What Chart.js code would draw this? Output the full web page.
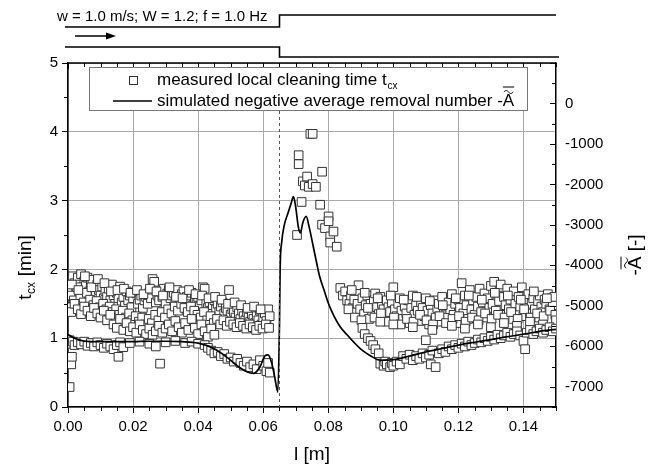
<!DOCTYPE html>
<html>
<head>
<meta charset="utf-8">
<script src="https://cdn.jsdelivr.net/npm/chart.js@4.4.1/dist/chart.umd.min.js"></script>
<style>
  html, body { margin: 0; padding: 0; background: #fff; }
  #wrap { width: 657px; height: 470px; }
</style>
</head>
<body>
<div id="wrap"><canvas id="chart" width="657" height="470"></canvas></div>
<script>
// tick values
const xTickValues = [0, 0.02, 0.04, 0.06, 0.08, 0.10, 0.12, 0.14];
const yLeftTickValues = [0, 1, 2, 3, 4, 5];
const yRightTickValues = [-7000, -6000, -5000, -4000, -3000, -2000, -1000, 0];

// measured local cleaning time t_cx [min], pairs [l (m), t (min)]
const upperLeft = [[0.0005,1.85],[0.001,1.72],[0.0015,1.9],[0.002,1.8],[0.0025,1.66],[0.003,1.88],[0.0035,1.78],[0.004,1.93],[0.0045,1.7],[0.005,1.83],[0.0055,1.76],[0.006,1.88],[0.0065,1.68],[0.007,1.8],[0.0075,1.85],[0.008,1.72],[0.0085,1.64],[0.009,1.78],[0.0095,1.7],[0.010,1.62],[0.0105,1.75],[0.011,1.58],[0.0115,1.68],[0.012,1.6],[0.0125,1.72],[0.013,1.55],[0.0135,1.78],[0.014,1.62],[0.0145,1.5],[0.015,1.66],[0.0155,1.58],[0.016,1.75],[0.0165,1.52],[0.017,1.6],[0.0175,1.47],[0.018,1.68],[0.0185,1.55],[0.019,1.62],[0.0195,1.45],[0.020,1.58],[0.021,1.65],[0.0215,1.5],[0.022,1.56],[0.0225,1.62],[0.023,1.44],[0.0235,1.55],[0.024,1.6],[0.0245,1.5],[0.025,1.66],[0.0255,1.58],[0.026,1.86],[0.0265,1.82],[0.027,1.52],[0.0275,1.62],[0.028,1.55],[0.0285,1.68],[0.029,1.6],[0.0295,1.72],[0.030,1.5],[0.0305,1.65],[0.031,1.7],[0.0315,1.58],[0.032,1.62],[0.0325,1.66],[0.033,1.52],[0.0335,1.7],[0.034,1.6],[0.0345,1.55],[0.035,1.64],[0.0355,1.68],[0.036,1.5],[0.0365,1.6],[0.037,1.55],[0.0375,1.62],[0.038,1.66],[0.0385,1.48],[0.039,1.58],[0.0395,1.52],[0.040,1.6],[0.0405,1.46],[0.041,1.55],[0.0415,1.74],[0.042,1.72],[0.0425,1.5],[0.043,1.44],[0.0435,1.52],[0.044,1.4],[0.0445,1.48],[0.045,1.55],[0.0455,1.42],[0.046,1.5],[0.0465,1.38],[0.047,1.46],[0.0475,1.52],[0.048,1.36],[0.0485,1.44],[0.049,1.4],[0.0495,1.7],[0.050,1.34],[0.0505,1.42],[0.051,1.38],[0.0515,1.3],[0.052,1.45],[0.0525,1.36],[0.053,1.28],[0.0535,1.4],[0.054,1.32],[0.0545,1.26],[0.055,1.38],[0.0555,1.3],[0.056,1.24],[0.0565,1.35],[0.057,1.28],[0.0575,1.22],[0.058,1.32],[0.0585,1.26],[0.059,1.4],[0.0595,1.2],[0.060,1.3],[0.0605,1.36],[0.061,1.25],[0.0615,1.42],[0.062,1.32]];
const extraLeft = [[0.0008,1.62],[0.0018,1.55],[0.0028,1.74],[0.0038,1.6],[0.0048,1.52],[0.0058,1.66],[0.0068,1.56],[0.0078,1.48],[0.0088,1.54],[0.0098,1.45],[0.0108,1.5],[0.0118,1.42],[0.0128,1.46],[0.0138,1.38],[0.0148,1.42],[0.0158,1.34],[0.0168,1.4],[0.0178,1.3],[0.0188,1.36],[0.0198,1.26],[0.0208,1.32],[0.0218,1.24],[0.0228,1.3],[0.0238,1.2],[0.0248,1.28],[0.0258,1.22],[0.0268,1.34],[0.0278,1.26],[0.0288,1.38],[0.0298,1.3],[0.0308,1.42],[0.0318,1.36],[0.0328,1.46],[0.0338,1.4],[0.0348,1.5],[0.0358,1.44],[0.0368,1.38],[0.0378,1.46],[0.0388,1.4],[0.0398,1.34],[0.0408,1.3],[0.0418,1.38],[0.0428,1.26],[0.0438,1.32],[0.0448,1.22],[0.0458,1.28],[0.0468,1.2],[0.0478,1.26],[0.0488,1.18],[0.0498,1.24],[0.0508,1.2],[0.0518,1.16],[0.0528,1.22],[0.0538,1.18],[0.0548,1.14],[0.0558,1.2],[0.0568,1.16],[0.0578,1.12],[0.0588,1.18],[0.0598,1.14],[0.0608,1.2],[0.0618,1.15],[0.0012,1.78],[0.0032,1.7],[0.0052,1.9],[0.0072,1.74],[0.0092,1.86],[0.0112,1.8],[0.0132,1.68],[0.0152,1.7],[0.0172,1.72],[0.0192,1.66],[0.0212,1.7],[0.0232,1.64],[0.0252,1.72],[0.0272,1.68],[0.0292,1.62],[0.0312,1.74],[0.0332,1.6],[0.0352,1.58],[0.0372,1.7],[0.0392,1.64],[0.0412,1.62],[0.0432,1.58],[0.0452,1.6],[0.0472,1.56],[0.0492,1.5],[0.0512,1.52],[0.0532,1.48],[0.0552,1.44],[0.0572,1.46],[0.0592,1.42]];
const middleLeft = [[0.0005,1.45],[0.001,1.38],[0.002,1.5],[0.003,1.42],[0.004,1.35],[0.005,1.46],[0.006,1.4],[0.007,1.32],[0.008,1.44],[0.009,1.36],[0.010,1.3],[0.011,1.4],[0.012,1.26],[0.013,1.34],[0.014,1.2],[0.015,1.15],[0.016,1.28],[0.017,1.12],[0.018,1.22],[0.019,1.1],[0.020,1.16],[0.021,1.08],[0.022,1.2],[0.023,1.12],[0.024,1.06],[0.025,1.14],[0.026,1.05],[0.027,1.1],[0.028,1.18],[0.029,1.08],[0.030,1.14],[0.031,1.2],[0.032,1.1],[0.033,1.25],[0.034,1.16],[0.035,1.08],[0.036,1.22],[0.037,1.12],[0.038,1.28],[0.039,1.15],[0.040,1.06],[0.041,1.2],[0.042,1.1],[0.043,1.02],[0.044,1.14],[0.045,1.05]];
const lowerLeft = [[0.0005,0.97],[0.001,0.92],[0.0015,0.95],[0.002,0.9],[0.003,0.94],[0.004,0.91],[0.005,0.95],[0.006,0.89],[0.007,0.93],[0.008,0.88],[0.009,0.94],[0.010,0.9],[0.011,0.86],[0.012,0.92],[0.013,0.88],[0.014,0.84],[0.015,0.9],[0.016,0.94],[0.017,0.87],[0.019,0.93],[0.022,0.95],[0.025,0.92],[0.027,0.88],[0.030,0.94],[0.033,0.96],[0.036,0.93],[0.038,0.95],[0.040,0.92],[0.042,0.9],[0.043,0.86],[0.044,0.82],[0.045,0.78],[0.046,0.8],[0.047,0.74],[0.048,0.77],[0.049,0.7],[0.050,0.72],[0.051,0.66],[0.052,0.7],[0.053,0.64],[0.054,0.6],[0.055,0.66],[0.056,0.58],[0.057,0.62],[0.058,0.55],[0.059,0.68],[0.060,0.6],[0.061,0.52],[0.0615,0.64],[0.062,0.5]];
const outliersLeft = [[0.0005,0.29],[0.001,0.62],[0.0012,0.73],[0.0155,0.73],[0.0283,0.63]];
const peak = [[0.0704,2.5],[0.0709,3.66],[0.0709,3.53],[0.0718,2.98],[0.0722,3.28],[0.0728,3.22],[0.0735,3.35],[0.0740,3.2],[0.0745,3.97],[0.0752,3.97],[0.0752,3.24],[0.0762,3.2],[0.0775,2.94],[0.0781,3.42],[0.0781,2.65],[0.0790,2.6],[0.0801,2.77],[0.0801,2.7],[0.0806,2.48],[0.0806,2.39],[0.0816,2.55],[0.0826,2.33]];
const upperRight = [[0.0837,1.73],[0.0845,1.62],[0.0852,1.68],[0.0858,1.55],[0.0865,1.5],[0.087,1.62],[0.0875,1.44],[0.088,1.56],[0.0885,1.38],[0.089,1.5],[0.0893,1.77],[0.0898,1.42],[0.0905,1.58],[0.091,1.35],[0.0915,1.48],[0.092,1.62],[0.0925,1.28],[0.093,1.5],[0.0935,1.4],[0.094,1.55],[0.0944,1.65],[0.095,1.45],[0.0955,1.35],[0.096,1.6],[0.0965,1.5],[0.097,1.42],[0.0975,1.3],[0.098,1.55],[0.0985,1.45],[0.099,1.38],[0.0995,1.52],[0.100,1.74],[0.1005,1.42],[0.101,1.32],[0.1015,1.5],[0.102,1.58],[0.1025,1.4],[0.103,1.28],[0.1035,1.46],[0.104,1.36],[0.1045,1.55],[0.105,1.22],[0.1055,1.44],[0.106,1.62],[0.1065,1.34],[0.107,1.48],[0.1075,1.4],[0.108,1.25],[0.1085,1.52],[0.109,1.44],[0.1095,1.32],[0.110,1.58],[0.1105,1.4],[0.111,1.2],[0.1115,1.48],[0.112,1.36],[0.1125,1.55],[0.113,1.3],[0.1135,1.44],[0.114,1.5],[0.1145,1.24],[0.115,1.6],[0.1155,1.38],[0.116,1.46],[0.1165,1.3],[0.117,1.52],[0.1175,1.42],[0.118,1.64],[0.1185,1.34],[0.119,1.5],[0.1195,1.22],[0.120,1.56],[0.1205,1.44],[0.121,1.8],[0.1215,1.36],[0.122,1.62],[0.1225,1.48],[0.123,1.28],[0.1235,1.7],[0.124,1.42],[0.1245,1.55],[0.125,1.34],[0.1255,1.6],[0.126,1.46],[0.1265,1.72],[0.127,1.38],[0.1275,1.52],[0.128,1.65],[0.1285,1.3],[0.129,1.58],[0.1295,1.44],[0.130,1.76],[0.1305,1.5],[0.131,1.82],[0.1315,1.4],[0.132,1.62],[0.1325,1.54],[0.133,1.78],[0.1335,1.34],[0.134,1.6],[0.1345,1.48],[0.135,1.72],[0.1355,1.42],[0.136,1.56],[0.1365,1.28],[0.137,1.68],[0.1375,1.5],[0.138,1.38],[0.1385,1.6],[0.139,1.46],[0.1395,1.74],[0.140,1.32],[0.1405,1.55],[0.141,1.44],[0.1415,1.64],[0.142,1.36],[0.1425,1.5],[0.143,1.58],[0.1435,1.42],[0.144,1.3],[0.1445,1.54],[0.145,1.62],[0.1455,1.46],[0.146,1.38],[0.1465,1.56],[0.147,1.5],[0.1475,1.64],[0.148,1.42],[0.1485,1.58],[0.149,1.48],[0.1495,1.6]];
const extraRight = [[0.0862,1.42],[0.0882,1.3],[0.0902,1.26],[0.0922,1.44],[0.0942,1.3],[0.0962,1.36],[0.0982,1.24],[0.1002,1.3],[0.1022,1.2],[0.1042,1.28],[0.1062,1.24],[0.1082,1.34],[0.1102,1.26],[0.1122,1.2],[0.1142,1.32],[0.1162,1.22],[0.1182,1.28],[0.1202,1.32],[0.1222,1.24],[0.1242,1.3],[0.1262,1.26],[0.1282,1.36],[0.1302,1.28],[0.1322,1.34],[0.1342,1.3],[0.1362,1.38],[0.1382,1.28],[0.1402,1.42],[0.1422,1.3],[0.1442,1.36],[0.1462,1.32],[0.1482,1.4],[0.1498,1.34],[0.0872,1.7],[0.0912,1.66],[0.0952,1.58],[0.0992,1.62],[0.1032,1.56],[0.1072,1.6],[0.1112,1.54],[0.1152,1.48],[0.1192,1.58],[0.1232,1.62],[0.1272,1.56],[0.1312,1.66],[0.1352,1.62],[0.1392,1.56],[0.1432,1.68],[0.1472,1.58]];
const middleRight = [[0.096,1.24],[0.1,1.2],[0.106,1.16],[0.112,1.12],[0.118,1.18],[0.122,1.14],[0.126,1.2],[0.13,1.16],[0.134,1.22],[0.138,1.18],[0.142,1.24],[0.146,1.2],[0.15,1.26]];
const lowerRight = [[0.0905,1.15],[0.0912,1.06],[0.0922,1.0],[0.093,0.96],[0.0938,0.9],[0.0945,0.84],[0.0955,0.78],[0.096,0.63],[0.097,0.6],[0.0975,0.66],[0.098,0.62],[0.099,0.58],[0.0995,0.64],[0.100,0.6],[0.101,0.66],[0.102,0.62],[0.103,0.74],[0.104,0.7],[0.105,0.76],[0.106,0.68],[0.107,0.74],[0.108,0.7],[0.109,0.78],[0.110,0.72],[0.110,0.97],[0.111,0.76],[0.1115,0.62],[0.112,0.82],[0.113,0.58],[0.114,0.78],[0.115,0.84],[0.116,0.8],[0.117,0.88],[0.118,0.84],[0.119,0.9],[0.120,0.86],[0.121,0.92],[0.122,0.88],[0.123,0.95],[0.124,0.9],[0.125,0.93],[0.126,0.98],[0.127,0.94],[0.128,1.0],[0.129,0.96],[0.130,1.02],[0.131,0.98],[0.132,1.05],[0.133,1.0],[0.134,1.04],[0.135,1.08],[0.136,1.02],[0.137,1.06],[0.138,1.1],[0.139,1.04],[0.140,0.96],[0.1405,0.84],[0.141,1.08],[0.142,1.12],[0.143,1.06],[0.144,1.1],[0.145,1.14],[0.146,1.08],[0.147,1.12],[0.148,1.16],[0.149,1.1],[0.150,1.14]];

// simulated negative average removal number (right axis)
const simX = [0, 0.002, 0.005, 0.010, 0.015, 0.020, 0.025, 0.030, 0.035, 0.040, 0.043, 0.046, 0.049, 0.052, 0.055, 0.057, 0.059, 0.0605, 0.0615, 0.0625, 0.0635, 0.0645, 0.0650, 0.0652, 0.0657, 0.0665, 0.0675, 0.0685, 0.0693, 0.0700, 0.0708, 0.0714, 0.0722, 0.0732, 0.0742, 0.0754, 0.0764, 0.0774, 0.0787, 0.0800, 0.0818, 0.0836, 0.0857, 0.0877, 0.0900, 0.0928, 0.0960, 0.1000, 0.1050, 0.1100, 0.1150, 0.1200, 0.1250, 0.1300, 0.1350, 0.1400, 0.1450, 0.1500];
const simA = [-5710, -5800, -5870, -5885, -5885, -5885, -5875, -5875, -5885, -5920, -5990, -6110, -6280, -6480, -6630, -6670, -6510, -6240, -6210, -6380, -6740, -7130, -5460, -4100, -3420, -3000, -2740, -2490, -2300, -2570, -3050, -3200, -2940, -2790, -3080, -3540, -3930, -4290, -4610, -4930, -5260, -5510, -5710, -5885, -6070, -6225, -6345, -6330, -6240, -6140, -6055, -5970, -5900, -5835, -5765, -5700, -5630, -5580];

const FONT = '"Liberation Sans", Arial, sans-serif';
const toXY = pairs => pairs.map(p => ({ x: p[0], y: p[1] }));
const measured = toXY([].concat(upperLeft, extraLeft, middleLeft, lowerLeft, outliersLeft, peak, upperRight, extraRight, middleRight, lowerRight));
const simulated = simX.map((x, i) => ({ x: x, y: simA[i] }));

function drawTildeBar(ctx, cx, top, w) {
    // tilde
    ctx.beginPath();
    ctx.lineWidth = 1;
    for (let i = 0; i <= 10; i++) {
        const px = cx - w / 2 + 1 + ((w - 2) * i) / 10;
        const py = top - 3 - Math.sin((i / 10) * Math.PI * 2) * 1.5;
        if (i === 0) ctx.moveTo(px, py); else ctx.lineTo(px, py);
    }
    ctx.stroke();
    // bar
    ctx.beginPath();
    ctx.moveTo(cx - w / 2, top - 8);
    ctx.lineTo(cx + w / 2, top - 8);
    ctx.stroke();
}

const decor = {
    id: 'decor',
    afterDraw(chart) {
        const ctx = chart.ctx;
        const a = chart.chartArea;
        const sx = chart.scales.x, sy = chart.scales.y, sr = chart.scales.yR;
        ctx.save();
        ctx.strokeStyle = '#000';
        ctx.fillStyle = '#000';

        // dashed line at channel step
        const xs = Math.round(sx.getPixelForValue(0.065)) + 0.5;
        ctx.setLineDash([3, 3]);
        ctx.strokeStyle = '#555';
        ctx.lineWidth = 1;
        ctx.beginPath(); ctx.moveTo(xs, a.top); ctx.lineTo(xs, a.bottom); ctx.stroke();
        ctx.setLineDash([]);
        ctx.strokeStyle = '#000';

        // top axis
        ctx.lineWidth = 1.5;
        ctx.beginPath(); ctx.moveTo(a.left, a.top); ctx.lineTo(a.right, a.top); ctx.stroke();
        ctx.lineWidth = 1;
        for (let i = 0; i <= 30; i++) {
            const v = i * 0.005;
            const px = Math.round(sx.getPixelForValue(v)) + 0.5;
            const major = i % 4 === 0;
            ctx.beginPath(); ctx.moveTo(px, a.top); ctx.lineTo(px, a.top + (major ? 6 : 4)); ctx.stroke();
            if (!major) { ctx.beginPath(); ctx.moveTo(px, a.bottom); ctx.lineTo(px, a.bottom + 4); ctx.stroke(); }
        }
        // left minor ticks
        for (let i = 0; i < 5; i++) {
            const py = Math.round(sy.getPixelForValue(i + 0.5)) + 0.5;
            ctx.beginPath(); ctx.moveTo(a.left, py); ctx.lineTo(a.left - 4, py); ctx.stroke();
        }
        // right inward ticks
        for (let v = -7500; v <= 1000; v += 500) {
            const py = Math.round(sr.getPixelForValue(v)) + 0.5;
            const major = v % 1000 === 0;
            ctx.beginPath(); ctx.moveTo(a.right, py); ctx.lineTo(a.right - (major ? 6 : 4), py); ctx.stroke();
        }

        // channel sketch above the plot
        ctx.lineWidth = 1.6;
        ctx.beginPath();
        ctx.moveTo(65, 27); ctx.lineTo(xs, 27); ctx.lineTo(xs, 15); ctx.lineTo(a.right, 15);
        ctx.stroke();
        ctx.beginPath();
        ctx.moveTo(65, 47); ctx.lineTo(xs, 47); ctx.lineTo(xs, 57); ctx.lineTo(a.right + 3, 57);
        ctx.stroke();
        ctx.lineWidth = 1.4;
        ctx.beginPath(); ctx.moveTo(75, 36); ctx.lineTo(108, 36); ctx.stroke();
        ctx.beginPath(); ctx.moveTo(116, 36); ctx.lineTo(106, 32.5); ctx.lineTo(106, 39.5); ctx.closePath(); ctx.fill();
        ctx.fillStyle = '#fff';
        ctx.font = '15px ' + FONT;
        const topText = 'w = 1.0 m/s; W = 1.2; f = 1.0 Hz';
        const tw = ctx.measureText(topText).width;
        ctx.fillRect(56, 5, tw + 3, 18);
        ctx.fillStyle = '#000';
        ctx.textBaseline = 'alphabetic';
        ctx.textAlign = 'left';
        ctx.fillText(topText, 57, 21);

        // legend
        ctx.strokeStyle = '#777';
        ctx.lineWidth = 1;
        ctx.fillStyle = '#fff';
        ctx.fillRect(89.5, 67.5, 438, 43);
        ctx.strokeRect(89.5, 67.5, 438, 43);
        ctx.strokeStyle = '#333';
        ctx.strokeRect(129.5, 76.5, 8, 8);
        ctx.strokeStyle = '#000';
        ctx.lineWidth = 1.6;
        ctx.beginPath(); ctx.moveTo(113, 101); ctx.lineTo(152, 101); ctx.stroke();
        ctx.fillStyle = '#000';
        ctx.font = '17px ' + FONT;
        ctx.textBaseline = 'middle';
        const t1 = 'measured local cleaning time t';
        ctx.fillText(t1, 157, 80);
        const w1 = ctx.measureText(t1).width;
        ctx.font = '10px ' + FONT;
        ctx.fillText('cx', 157 + w1 + 1, 86);
        ctx.font = '17px ' + FONT;
        const t2 = 'simulated negative average removal number -';
        ctx.fillText(t2, 157, 101);
        const w2 = ctx.measureText(t2).width;
        ctx.fillText('A', 157 + w2, 101);
        const wA = ctx.measureText('A').width;
        ctx.lineWidth = 1;
        drawTildeBar(ctx, 157 + w2 + wA / 2, 95, wA);

        // axis titles
        ctx.font = '19px ' + FONT;
        ctx.textAlign = 'center';
        ctx.textBaseline = 'middle';
        ctx.fillText('l [m]', (a.left + a.right) / 2, 455);

        ctx.save();
        ctx.translate(26, 268);
        ctx.rotate(-Math.PI / 2);
        ctx.textAlign = 'left';
        const tl = 't';
        const tm = ' [min]';
        ctx.font = '19px ' + FONT;
        const wt = ctx.measureText(tl).width;
        const wm = ctx.measureText(tm).width;
        ctx.font = '12px ' + FONT;
        const wc = ctx.measureText('cx').width;
        const start = -(wt + wc + wm) / 2;
        ctx.font = '19px ' + FONT;
        ctx.fillText(tl, start, 0);
        ctx.fillText(tm, start + wt + wc + 1, 0);
        ctx.font = '12px ' + FONT;
        ctx.fillText('cx', start + wt + 0.5, 6);
        ctx.restore();

        ctx.save();
        ctx.translate(636, 255);
        ctx.rotate(-Math.PI / 2);
        ctx.font = '19px ' + FONT;
        ctx.textAlign = 'left';
        const full = '-A [-]';
        const wf = ctx.measureText(full).width;
        const wdash = ctx.measureText('-').width;
        const wA2 = ctx.measureText('A').width;
        ctx.fillText(full, -wf / 2, 0);
        ctx.strokeStyle = '#000';
        drawTildeBar(ctx, -wf / 2 + wdash + wA2 / 2, -7, wA2);
        ctx.restore();

        ctx.restore();
    }
};

new Chart(document.getElementById('chart'), {
    type: 'scatter',
    data: {
        datasets: [
            {
                label: 'simulated negative average removal number',
                data: simulated,
                yAxisID: 'yR',
                showLine: true,
                borderColor: '#000',
                borderWidth: 1.7,
                pointRadius: 0,
                cubicInterpolationMode: 'monotone'
            },
            {
                label: 'measured local cleaning time',
                data: measured,
                yAxisID: 'y',
                pointStyle: 'rect',
                pointRadius: 6.1,
                borderColor: '#333',
                borderWidth: 1,
                backgroundColor: '#fff'
            }
        ]
    },
    options: {
        responsive: false,
        devicePixelRatio: 1,
        animation: false,
        layout: { padding: { top: 63, left: 0, right: 0, bottom: 0 } },
        plugins: { legend: { display: false }, tooltip: { enabled: false } },
        scales: {
            x: {
                type: 'linear', min: 0, max: 0.15,
                afterBuildTicks: s => { s.ticks = xTickValues.map(v => ({ value: v })); },
                afterFit: s => { s.height = 63; },
                ticks: { callback: v => v.toFixed(2), font: { family: FONT, size: 15 }, color: '#000', padding: 5, maxRotation: 0 },
                grid: { color: '#aaa', lineWidth: 1, tickColor: '#000', tickLength: 6 },
                border: { display: true, color: '#000', width: 1.5 }
            },
            y: {
                type: 'linear', position: 'left', min: 0, max: 5,
                afterBuildTicks: s => { s.ticks = yLeftTickValues.map(v => ({ value: v })); },
                afterFit: s => { s.width = 68; },
                ticks: { font: { family: FONT, size: 15 }, color: '#000', padding: 4 },
                grid: { color: '#aaa', lineWidth: 1, tickColor: '#000', tickLength: 6 },
                border: { display: true, color: '#000', width: 1.5 }
            },
            yR: {
                type: 'linear', position: 'right', min: -7500, max: 1000,
                afterBuildTicks: s => { s.ticks = yRightTickValues.map(v => ({ value: v })); },
                afterFit: s => { s.width = 101; },
                ticks: { callback: v => String(v), font: { family: FONT, size: 15 }, color: '#000', padding: 9 },
                grid: { drawOnChartArea: false, drawTicks: false },
                border: { display: true, color: '#000', width: 1.5 }
            }
        }
    },
    plugins: [decor]
});
</script>
</body>
</html>
